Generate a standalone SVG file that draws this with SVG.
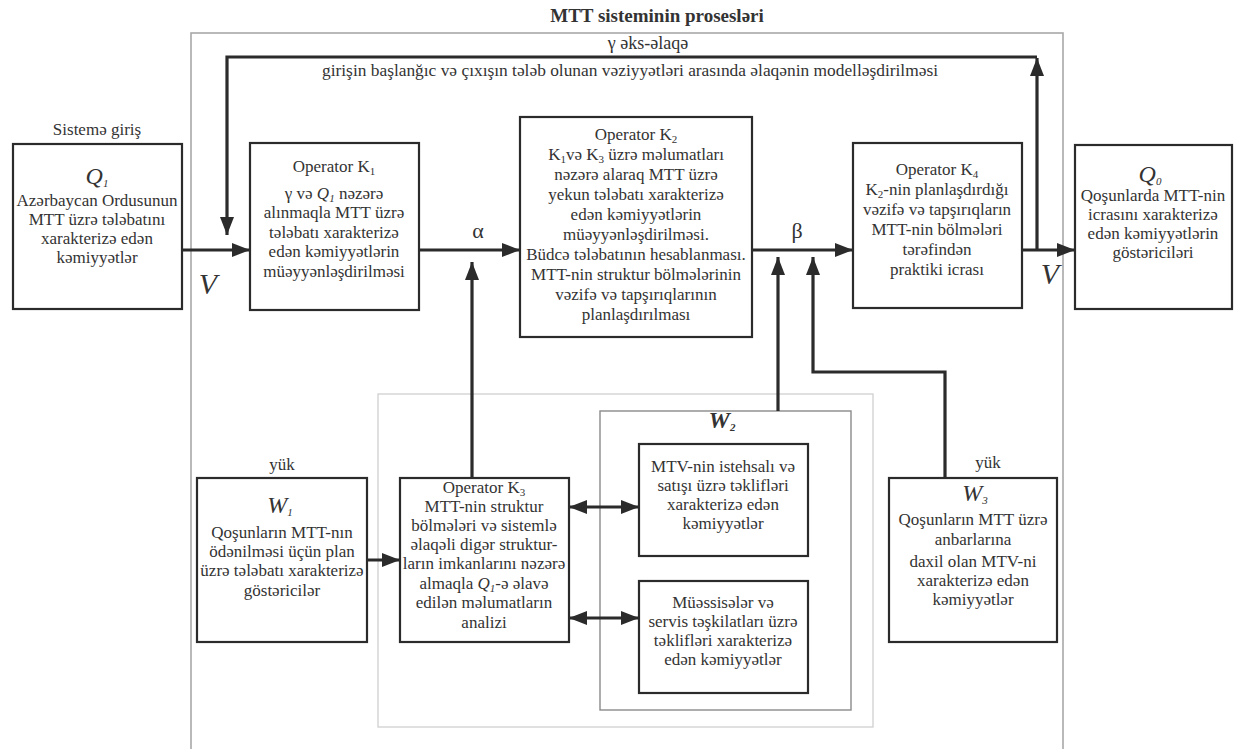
<svg xmlns="http://www.w3.org/2000/svg" width="1234" height="749" viewBox="0 0 1234 749" font-family="'Liberation Serif', 'Times New Roman', 'DejaVu Serif', serif">
<style>
text{font-family:'Liberation Serif','Times New Roman','DejaVu Serif',serif;fill:#333;}
.t{font-size:17px;text-anchor:middle;}
.s{font-size:11px;}
.box{fill:#fff;stroke:#2b2b2b;stroke-width:2.2;}
.c{fill:none;stroke:#2b2b2b;stroke-width:3.2;}
.lbl{font-style:italic;text-anchor:middle;}
</style>
<defs>
<marker id="ah" markerUnits="userSpaceOnUse" markerWidth="20" markerHeight="16" refX="18" refY="8" orient="auto-start-reverse">
<path d="M0,1 L18,8 L0,15 Z" fill="#2b2b2b"/>
</marker>
</defs>
<rect width="1234" height="749" fill="#fff"/>
<text x="657" y="22" style="font-size:19px;font-weight:bold;text-anchor:middle">MTT sisteminin prosesləri</text>
<g id="frames">
<rect x="191" y="33" width="872" height="740" fill="none" stroke="#a8a8a8" stroke-width="1.6"/>
<rect x="378" y="394" width="495" height="333" fill="none" stroke="#d0d0d0" stroke-width="1.3"/>
<rect id="W2" x="600" y="411" width="251" height="299" fill="none" stroke="#8a8a8a" stroke-width="1.4"/>
</g>
<text x="648" y="49" style="font-size:18px;text-anchor:middle">γ əks-əlaqə</text>
<text x="630" y="76" style="font-size:16px;text-anchor:middle" textLength="616" lengthAdjust="spacingAndGlyphs">girişin başlanğıc və çıxışın tələb olunan vəziyyətləri arasında əlaqənin modelləşdirilməsi</text>
<g id="connectors">
<path class="c" d="M1037,250 V58" marker-end="url(#ah)"/>
<path class="c" d="M1037,57 H227 V235" marker-end="url(#ah)"/>
<path class="c" d="M182,250 H250" marker-end="url(#ah)"/>
<path class="c" d="M419,250 H520" marker-end="url(#ah)"/>
<path class="c" d="M472,478 V262" marker-end="url(#ah)"/>
<path class="c" d="M752,250 H853" marker-end="url(#ah)"/>
<path class="c" d="M778,411 V257" marker-end="url(#ah)"/>
<path class="c" d="M945,478 V372 H813 V257" marker-end="url(#ah)"/>
<path class="c" d="M1022,250 H1075" marker-end="url(#ah)"/>
<path class="c" d="M367,560 H400" marker-end="url(#ah)"/>
<path class="c" d="M569,507 H639" marker-start="url(#ah)" marker-end="url(#ah)"/>
<path class="c" d="M569,618 H639" marker-start="url(#ah)" marker-end="url(#ah)"/>
<text class="lbl" x="208" y="294" style="font-size:30px">V</text>
<text class="lbl" x="1050" y="284" style="font-size:30px">V</text>
<text x="478" y="238" style="font-size:22px;text-anchor:middle">α</text>
<text x="797" y="238" style="font-size:22px;text-anchor:middle">β</text>
</g>
<g id="Q1">
<text x="97" y="135" style="font-size:17px;text-anchor:middle">Sistemə giriş</text>
<rect class="box" x="13" y="144" width="169" height="165"/>
<text class="lbl" x="97" y="184" style="font-size:24px">Q<tspan style="font-size:11px" dy="3">1</tspan></text>
<text class="t" x="97" y="206">Azərbaycan Ordusunun</text>
<text class="t" x="97" y="225">MTT üzrə tələbatını</text>
<text class="t" x="97" y="244">xarakterizə edən</text>
<text class="t" x="97" y="263">kəmiyyətlər</text>
</g>
<g id="K1">
<rect class="box" x="250" y="143" width="169" height="167"/>
<text class="t" x="334" y="172">Operator K<tspan class="s" dy="3">1</tspan></text>
<text class="t" x="334" y="199">γ və <tspan font-style="italic">Q</tspan><tspan class="s" font-style="italic" dy="3">1</tspan><tspan dy="-3"> nəzərə</tspan></text>
<text class="t" x="334" y="218">alınmaqla MTT üzrə</text>
<text class="t" x="334" y="238">tələbatı xarakterizə</text>
<text class="t" x="334" y="257">edən kəmiyyətlərin</text>
<text class="t" x="334" y="277">müəyyənləşdirilməsi</text>
</g>
<g id="K2">
<rect class="box" x="520" y="117" width="232" height="220"/>
<text class="t" x="636" y="140">Operator K<tspan class="s" dy="3">2</tspan></text>
<text class="t" x="636" y="160">K<tspan class="s" dy="3">1</tspan><tspan dy="-3">və K</tspan><tspan class="s" dy="3">3</tspan><tspan dy="-3"> üzrə məlumatları</tspan></text>
<text class="t" x="636" y="180">nəzərə alaraq  MTT üzrə</text>
<text class="t" x="636" y="200">yekun tələbatı xarakterizə</text>
<text class="t" x="636" y="220">edən kəmiyyətlərin</text>
<text class="t" x="636" y="240">müəyyənləşdirilməsi.</text>
<text class="t" x="636" y="260">Büdcə tələbatının hesablanması.</text>
<text class="t" x="636" y="280">MTT-nin struktur bölmələrinin</text>
<text class="t" x="636" y="300">vəzifə və tapşırıqlarının</text>
<text class="t" x="636" y="320">planlaşdırılması</text>
</g>
<g id="K4">
<rect class="box" x="853" y="143" width="169" height="165"/>
<text class="t" x="937" y="175">Operator K<tspan class="s" dy="3">4</tspan></text>
<text class="t" x="937" y="195">K<tspan class="s" dy="3">2</tspan><tspan dy="-3">-nin planlaşdırdığı</tspan></text>
<text class="t" x="937" y="215">vəzifə və tapşırıqların</text>
<text class="t" x="937" y="235">MTT-nin bölmələri</text>
<text class="t" x="937" y="255">tərəfindən</text>
<text class="t" x="937" y="275">praktiki icrası</text>
</g>
<g id="Q0">
<rect class="box" x="1075" y="145" width="157" height="164"/>
<text class="lbl" x="1150" y="182" style="font-size:24px">Q<tspan style="font-size:11px" dy="3">0</tspan></text>
<text class="t" x="1153" y="201">Qoşunlarda MTT-nin</text>
<text class="t" x="1153" y="220">icrasını xarakterizə</text>
<text class="t" x="1153" y="239">edən kəmiyyətlərin</text>
<text class="t" x="1153" y="258">göstəriciləri</text>
</g>
<g id="W1">
<text x="282" y="470" style="font-size:17px;text-anchor:middle">yük</text>
<rect class="box" x="197" y="478" width="170" height="164"/>
<text class="lbl" x="280" y="513" style="font-size:24px">W<tspan style="font-size:11px" dy="3">1</tspan></text>
<text class="t" x="282" y="538">Qoşunların MTT-nın</text>
<text class="t" x="282" y="557">ödənilməsi üçün plan</text>
<text class="t" x="282" y="576">üzrə tələbatı xarakterizə</text>
<text class="t" x="282" y="596">göstəricilər</text>
</g>
<g id="K3">
<rect class="box" x="400" y="478" width="169" height="164"/>
<text class="t" x="484" y="493">Operator K<tspan class="s" dy="3">3</tspan></text>
<text class="t" x="484" y="512">MTT-nin struktur</text>
<text class="t" x="484" y="531">bölmələri və sistemlə</text>
<text class="t" x="484" y="550">əlaqəli digər struktur-</text>
<text class="t" x="484" y="569">ların imkanlarını nəzərə</text>
<text class="t" x="484" y="589">almaqla <tspan font-style="italic">Q</tspan><tspan class="s" font-style="italic" dy="3">1</tspan><tspan dy="-3">-ə əlavə</tspan></text>
<text class="t" x="484" y="608">edilən məlumatların</text>
<text class="t" x="484" y="628">analizi</text>
</g>
<g id="W2label">
<text class="lbl" x="722" y="428" style="font-size:24px;font-weight:bold">W<tspan style="font-size:11px" dy="3">2</tspan></text>
</g>
<g id="W2a">
<rect class="box" x="639" y="444" width="169" height="112"/>
<text class="t" x="723" y="472">MTV-nin istehsalı və</text>
<text class="t" x="723" y="491">satışı üzrə təklifləri</text>
<text class="t" x="723" y="510">xarakterizə edən</text>
<text class="t" x="723" y="529">kəmiyyətlər</text>
</g>
<g id="W2b">
<rect class="box" x="639" y="581" width="169" height="112"/>
<text class="t" x="723" y="608">Müəssisələr və</text>
<text class="t" x="723" y="627">servis təşkilatları üzrə</text>
<text class="t" x="723" y="646">təklifləri xarakterizə</text>
<text class="t" x="723" y="665">edən kəmiyyətlər</text>
</g>
<g id="W3">
<text x="988" y="468" style="font-size:17px;text-anchor:middle">yük</text>
<rect class="box" x="889" y="478" width="168" height="164"/>
<text class="lbl" x="975" y="501" style="font-size:24px">W<tspan style="font-size:11px" dy="3">3</tspan></text>
<text class="t" x="973" y="525">Qoşunların MTT üzrə</text>
<text class="t" x="973" y="545">anbarlarına</text>
<text class="t" x="973" y="567">daxil olan MTV-ni</text>
<text class="t" x="973" y="586">xarakterizə edən</text>
<text class="t" x="973" y="605">kəmiyyətlər</text>
</g>
</svg>
